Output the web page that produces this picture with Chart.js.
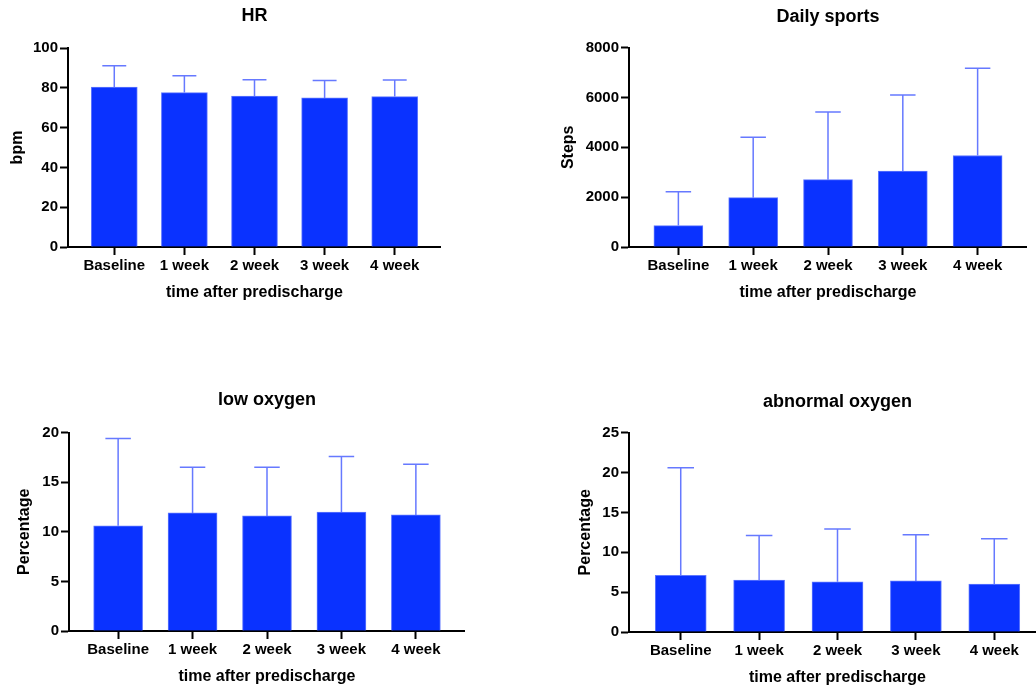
<!DOCTYPE html>
<html>
<head>
<meta charset="utf-8">
<script src="https://cdn.jsdelivr.net/npm/chart.js@4.4.1/dist/chart.umd.min.js"></script>
<style>
  html, body { margin: 0; padding: 0; background: #fff; overflow: hidden; }
  body { width: 1036px; height: 690px; position: relative; }
  .panel { position: absolute; }
</style>
</head>
<body>
<div class="panel" id="p1" style="left:0px;top:0px;width:441px;height:302px"><canvas id="c1"></canvas></div>
<div class="panel" id="p2" style="left:540px;top:0px;width:487px;height:302px"><canvas id="c2"></canvas></div>
<div class="panel" id="p3" style="left:0px;top:380px;width:465px;height:306px"><canvas id="c3"></canvas></div>
<div class="panel" id="p4" style="left:560px;top:380px;width:486px;height:307px"><canvas id="c4"></canvas></div>
<script>
var timepoints = ['Baseline', '1 week', '2 week', '3 week', '4 week'];

var hrMean = [80.3, 77.6, 75.8, 74.9, 75.6];
var hrSD = [10.8, 8.4, 8.2, 8.8, 8.3];
var hrTicks = [0, 20, 40, 60, 80, 100];

var stepsMean = [860, 1980, 2700, 3050, 3670];
var stepsSD = [1360, 2420, 2720, 3050, 3500];
var stepsTicks = [0, 2000, 4000, 6000, 8000];

var lowMean = [10.6, 11.9, 11.6, 12.0, 11.7];
var lowSD = [8.8, 4.6, 4.9, 5.6, 5.1];
var lowTicks = [0, 5, 10, 15, 20];

var abnMean = [7.1, 6.5, 6.3, 6.4, 6.0];
var abnSD = [13.5, 5.6, 6.6, 5.8, 5.7];
var abnTicks = [0, 5, 10, 15, 20, 25];

var BAR = '#0a32ff';
var ERR = '#6679ff';
var FONT = '"Liberation Sans", Arial, Helvetica, sans-serif';

// draws the upper SD whisker for every bar
var errorBars = {
	id: 'errorBars',
	afterDatasetsDraw: function(chart) {
		var meta = chart.getDatasetMeta(0);
		var sd = chart.data.datasets[0].sd;
		var yScale = chart.scales.y;
		var ctx = chart.ctx;
		ctx.save();
		ctx.strokeStyle = ERR;
		ctx.lineWidth = 1.5;
		meta.data.forEach(function(bar, i) {
			var v = chart.data.datasets[0].data[i].y;
			var yTop = yScale.getPixelForValue(v + sd[i]);
			var cap = bar.width * 0.26;
			ctx.beginPath();
			ctx.moveTo(bar.x, bar.y);
			ctx.lineTo(bar.x, yTop);
			ctx.moveTo(bar.x - cap, yTop);
			ctx.lineTo(bar.x + cap, yTop);
			ctx.stroke();
		});
		ctx.restore();
	}
};

function makeChart(id, cfg) {
	var data = cfg.mean.map(function(v, i) { return {x: i, y: v}; });
	return new Chart(document.getElementById(id), {
		type: 'bar',
		data: {
			datasets: [{
				data: data,
				sd: cfg.sd,
				backgroundColor: BAR,
				borderColor: '#5f78ff',
				borderWidth: 1,
				barThickness: cfg.barW
			}]
		},
		plugins: [errorBars],
		options: {
			responsive: true,
			maintainAspectRatio: false,
			animation: false,
			layout: { padding: 0 },
			plugins: {
				legend: { display: false },
				tooltip: { enabled: false },
				title: {
					display: true,
					text: cfg.title,
					fullSize: false,
					color: '#000',
					font: { family: FONT, size: 18, weight: 'bold' },
					padding: { top: cfg.titleTop, bottom: cfg.titleBottom }
				}
			},
			scales: {
				x: {
					type: 'linear',
					offset: false,
					min: -0.66,
					max: 4.66,
					afterBuildTicks: function(scale) {
						scale.ticks = timepoints.map(function(t, i) { return {value: i}; });
					},
					afterFit: function(scale) { scale.height = cfg.xH; },
					ticks: {
						color: '#000',
						padding: 2,
						maxRotation: 0,
						autoSkip: false,
						font: { family: FONT, size: 15, weight: 'bold' },
						callback: function(v) { return timepoints[v]; }
					},
					grid: { display: true, offset: false, drawOnChartArea: false, drawTicks: true, tickLength: 8, tickWidth: 2, tickColor: '#000' },
					border: { display: true, color: '#000', width: 2 },
					title: {
						display: true,
						text: 'time after predischarge',
						color: '#000',
						font: { family: FONT, size: 16, weight: 'bold' },
						padding: { top: 0, bottom: 0 }
					}
				},
				y: {
					min: 0,
					max: cfg.ticks[cfg.ticks.length - 1],
					afterBuildTicks: function(scale) {
						scale.ticks = cfg.ticks.map(function(t) { return {value: t}; });
					},
					afterFit: function(scale) { scale.width = cfg.yW; },
					ticks: {
						color: '#000',
						padding: 2,
						font: { family: FONT, size: 15, weight: 'bold' },
						callback: function(v) { return String(v); }
					},
					grid: { display: true, drawOnChartArea: false, drawTicks: true, tickLength: 8, tickWidth: 2, tickColor: '#000' },
					border: { display: true, color: '#000', width: 2 },
					title: {
						display: true,
						text: cfg.yLabel,
						color: '#000',
						font: { family: FONT, size: 16, weight: 'bold' },
						padding: { top: cfg.yTitlePad, bottom: 0 }
					}
				}
			}
		}
	});
}

makeChart('c1', { title: 'HR', yLabel: 'bpm', mean: hrMean, sd: hrSD, ticks: hrTicks,
	barW: 46, yW: 68, xH: 55, titleTop: 5, titleBottom: 21.4, yTitlePad: 8 });
makeChart('c2', { title: 'Daily sports', yLabel: 'Steps', mean: stepsMean, sd: stepsSD, ticks: stepsTicks,
	barW: 49, yW: 89, xH: 55, titleTop: 6, titleBottom: 20, yTitlePad: 19 });
makeChart('c3', { title: 'low oxygen', yLabel: 'Percentage', mean: lowMean, sd: lowSD, ticks: lowTicks,
	barW: 49, yW: 69, xH: 55, titleTop: 9, titleBottom: 22, yTitlePad: 15 });
makeChart('c4', { title: 'abnormal oxygen', yLabel: 'Percentage', mean: abnMean, sd: abnSD, ticks: abnTicks,
	barW: 51, yW: 69, xH: 55, titleTop: 11, titleBottom: 20, yTitlePad: 16 });
</script>
</body>
</html>
